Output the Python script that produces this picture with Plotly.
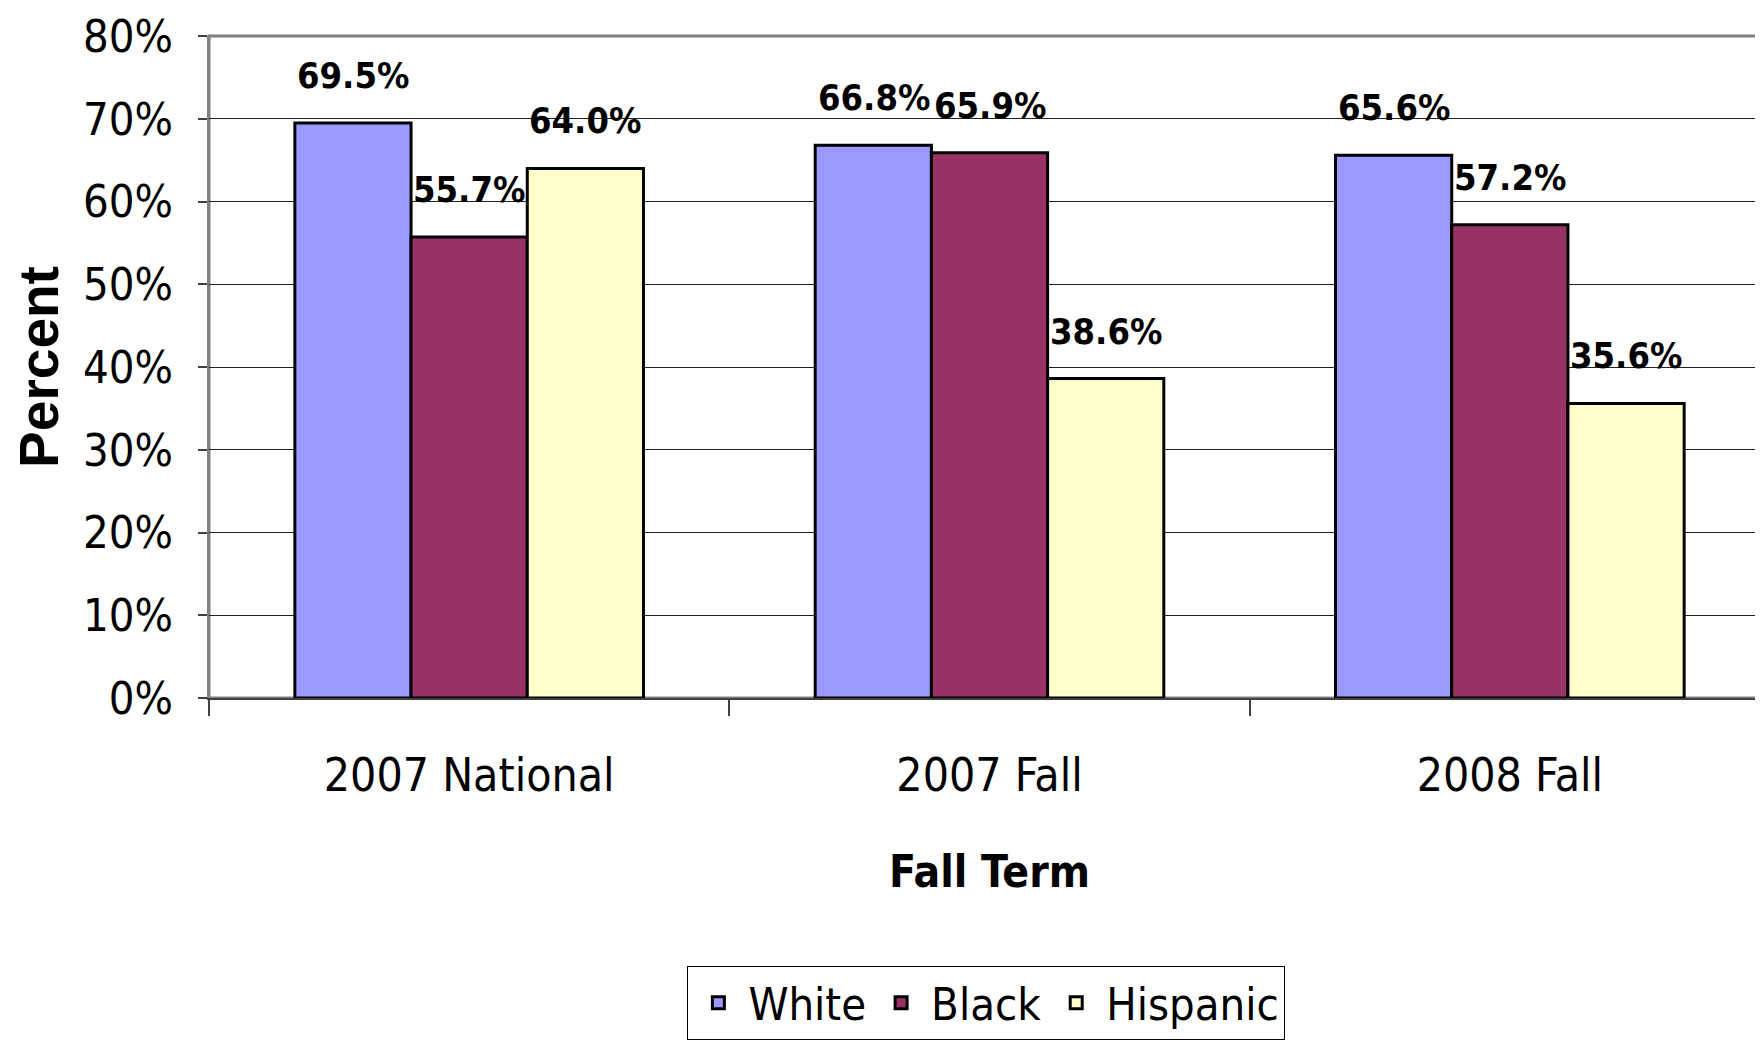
import plotly.graph_objects as go

categories = ["2007 National", "2007 Fall", "2008 Fall"]
series_names = ["White", "Black", "Hispanic"]
white = [69.5, 66.8, 65.6]
black = [55.7, 65.9, 57.2]
hispanic = [64.0, 38.6, 35.6]
y_ticks = [0, 10, 20, 30, 40, 50, 60, 70, 80]

colors = ["#9999FF", "#993366", "#FFFFCC"]
values = [white, black, hispanic]

NARROW = "Liberation Sans Narrow, Arial Narrow, DejaVu Sans Condensed, sans-serif"
BOLD = "Liberation Sans, Arial, sans-serif"

fig = go.Figure()
for name, vals, col in zip(series_names, values, colors):
    fig.add_trace(go.Bar(
        x=categories, y=vals, name=name,
        marker=dict(color=col, line=dict(color="black", width=3)),
    ))

# data labels, shifted over each bar of the group
bar_px = 116
for i, vals in enumerate(values):
    for c, v in zip(categories, vals):
        fig.add_annotation(
            x=c, y=v, text=f"<b>{v:.1f}%</b>", showarrow=False,
            xref="x", yref="y", yanchor="bottom", xanchor="center",
            xshift=(i - 1) * bar_px, yshift=25,
            font=dict(family=NARROW, size=36, color="black"),
        )

fig.add_shape(type="rect", xref="paper", yref="paper", x0=0, x1=1, y0=0, y1=1,
              line=dict(color="#808080", width=3), layer="below")

fig.update_layout(
    width=1763, height=1056,
    margin=dict(l=201, r=1, t=28, b=366, autoexpand=False),
    paper_bgcolor="white", plot_bgcolor="white",
    barmode="group", bargap=0.33, bargroupgap=0,
    font=dict(family=NARROW, size=45, color="black"),
    showlegend=True,
    legend=dict(
        orientation="h", x=0.498, xanchor="center", y=-0.405, yanchor="top",
        bordercolor="black", borderwidth=1, bgcolor="white",
        font=dict(family=NARROW, size=45, color="black"),
        traceorder="normal", itemwidth=50,
    ),
    xaxis=dict(
        type="category", tickson="boundaries", ticks="outside", ticklen=16,
        tickcolor="#404040", tickwidth=2, showline=True, linecolor="#404040", linewidth=2,
        showgrid=False, ticklabelstandoff=36, automargin=False,
        tickfont=dict(family=NARROW, size=46),
        title=dict(text="<b>Fall Term</b>", font=dict(family=NARROW, size=44), standoff=55),
    ),
    yaxis=dict(
        range=[0, 80], tickvals=y_ticks, ticktext=[f"{t}%" for t in y_ticks],
        ticks="outside", ticklen=9, tickcolor="#404040", tickwidth=2,
        showline=True, linecolor="#808080", linewidth=2,
        showgrid=True, gridcolor="#222222", gridwidth=1,
        zeroline=False, ticklabelstandoff=16, automargin=False,
        ticklabeloverflow="allow",
        tickfont=dict(family=NARROW, size=45),
        title=dict(text="<b>Percent</b>", font=dict(family=BOLD, size=55), standoff=22),
    ),
)

fig.write_html("out.html")
